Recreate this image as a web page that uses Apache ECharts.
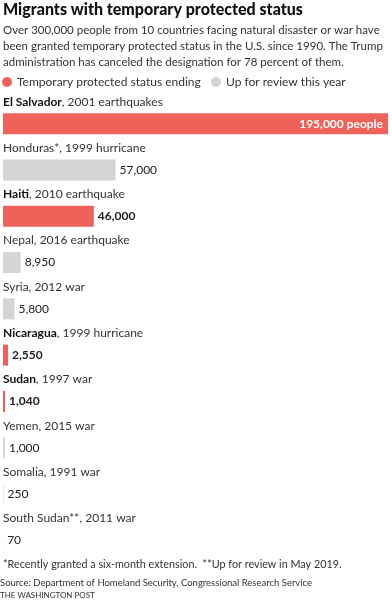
<!DOCTYPE html>
<html><head><meta charset="utf-8">
<style>html,body{margin:0;padding:0;background:#fff}#c{width:392px;height:600px}</style>
<script src="https://cdn.jsdelivr.net/npm/echarts@6/dist/echarts.min.js"></script>
</head><body><div id="c"></div>
<script>
const countries = ['El Salvador','Honduras*','Haiti','Nepal','Syria','Nicaragua','Sudan','Yemen','Somalia','South Sudan**'];
const events = ['2001 earthquakes','1999 hurricane','2010 earthquake','2016 earthquake','2012 war','1999 hurricane','1997 war','2015 war','1991 war','2011 war'];
const values = [195000,57000,46000,8950,5800,2550,1040,1000,250,70];
const status = ['ending','review','ending','review','review','ending','ending','review','review','review'];
const seriesNames = {ending:'Temporary protected status ending', review:'Up for review this year'};
const subtitleLines = ['Over 300,000 people from 10 countries facing natural disaster or war have',
  'been granted temporary protected status in the U.S. since 1990. The Trump',
  'administration has canceled the designation for 78 percent of them.'];
const colors = {ending:'#ef625a', review:'#d5d5d5'};
const FONT = 'Lato';
const TXT = '#222';
const FS = 12;

const cats = countries.map((c,i)=>c+'|'+i);
function mkSeries(key){
  return {
    name: seriesNames[key], type:'bar', barWidth:21, barGap:'-100%',
    itemStyle:{color:colors[key]},
    label:{show:true, position:'right', distance:4, fontFamily:FONT, fontSize:FS,
      color:TXT, fontWeight: key==='ending'?'bold':'normal',
      formatter:p=>p.value.toLocaleString('en-US')},
    data: values.map((v,i)=>{
      if(status[i]!==key) return null;
      if(i===0) return {value:v, label:{position:'insideRight', color:'#fff', fontWeight:'bold', distance:5,
        formatter:p=>p.value.toLocaleString('en-US')+' people'}};
      return v;
    })
  };
}
const titles = [
  {text:'Migrants with temporary protected status', left:3, top:2, padding:0,
   textStyle:{fontFamily:FONT, fontSize:16, fontWeight:900, color:'#111'}}
];
subtitleLines.forEach((t,k)=>titles.push({text:t, left:3, top:24+16*k, padding:0,
   textStyle:{fontFamily:FONT, fontSize:11.5, fontWeight:'normal', color:'#333'}}));
titles.push(
  {text:'*Recently granted a six-month extension.  **Up for review in May 2019.', left:3, top:559,
   padding:0, textStyle:{fontFamily:FONT, fontSize:10.8, fontWeight:'normal', color:'#333'}},
  {text:'Source: Department of Homeland Security, Congressional Research Service', left:0, top:578,
   padding:0, textStyle:{fontFamily:FONT, fontSize:9.5, fontWeight:'normal', color:'#333'}},
  {text:'THE WASHINGTON POST', left:0, top:591,
   padding:0, textStyle:{fontFamily:FONT, fontSize:8, fontWeight:'normal', color:'#333'}});
const legendBase = {top:76, icon:'circle', itemWidth:10, itemHeight:10, padding:0,
    textStyle:{fontFamily:FONT, fontSize:FS, color:'#333'}};
const chart = echarts.init(document.getElementById('c'));
chart.setOption({
  animation:false,
  title:titles,
  legend:[Object.assign({left:2, data:[seriesNames.ending]}, legendBase),
          Object.assign({left:211, data:[seriesNames.review]}, legendBase)],
  grid:{left:3, right:4, top:100.5, height:463, containLabel:false},
  xAxis:{type:'value', min:0, max:195000, show:false},
  yAxis:{type:'category', inverse:true, data:cats,
    axisLine:{show:false}, axisTick:{show:false}, splitLine:{show:false},
    axisLabel:{inside:true, margin:0, verticalAlign:'middle', padding:[0,0,44,0],
      formatter:(v)=>{const i=+v.split('|')[1]; const b=status[i]==='ending'?'b':'n';
        return '{'+b+'|'+countries[i]+'}{n|, '+events[i]+'}';},
      rich:{b:{fontFamily:FONT, fontSize:FS, fontWeight:'bold', color:'#111'},
            n:{fontFamily:FONT, fontSize:FS, color:'#333'}}}},
  series:[mkSeries('ending'), mkSeries('review')]
});
</script></body></html>
